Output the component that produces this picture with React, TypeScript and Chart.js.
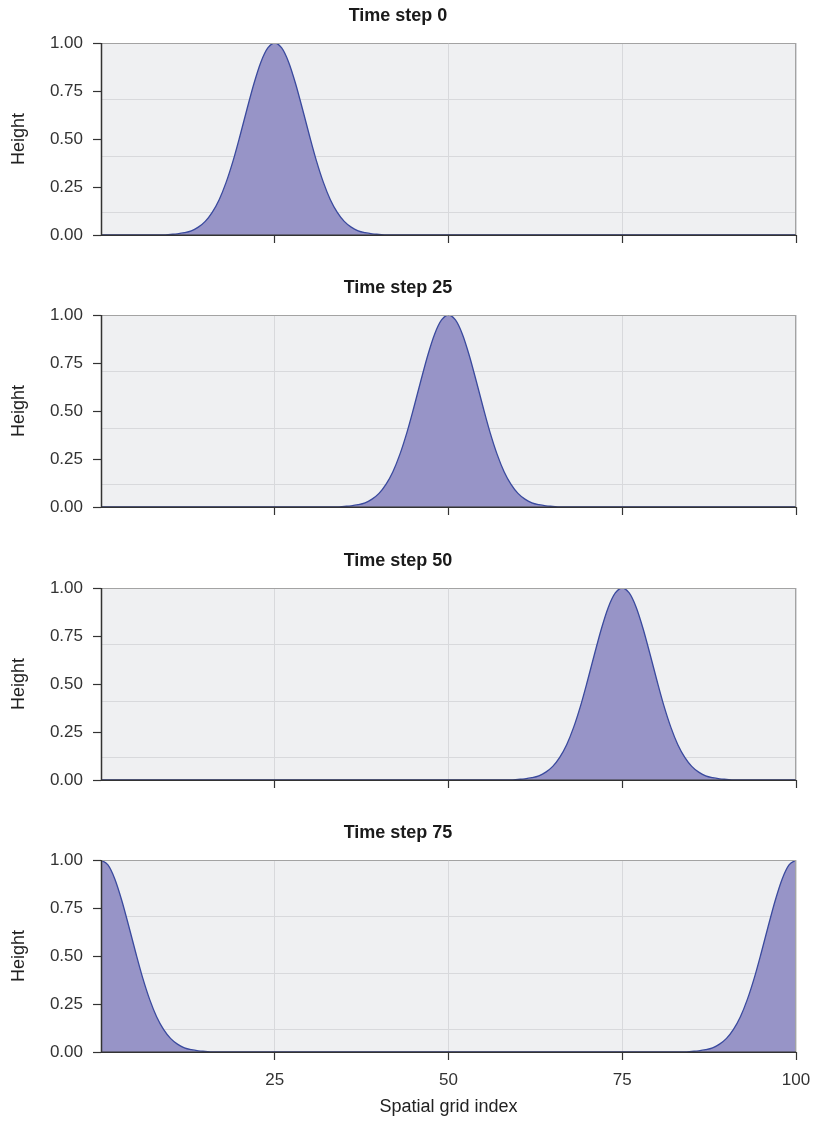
import React, { useEffect, useRef } from "react";
import { Chart, registerables } from "chart.js";

Chart.register(...registerables);

// ---------- data ----------
const gridIndex: number[] = Array.from({ length: 101 }, (_, i) => i);

const stepTitles = ["Time step 0", "Time step 25", "Time step 50", "Time step 75"];

const heightStep0 = [
  0, 0, 0, 0, 0, 0, 0, 0, 0, 0,
  0.003, 0.006, 0.012, 0.022, 0.041, 0.071, 0.118, 0.184, 0.274, 0.386,
  0.517, 0.655, 0.788, 0.9, 0.974, 1, 0.974, 0.9, 0.788, 0.655,
  0.517, 0.386, 0.274, 0.184, 0.118, 0.071, 0.041, 0.022, 0.012, 0.006,
  0.003, 0, 0, 0, 0, 0, 0, 0, 0, 0,
  0, 0, 0, 0, 0, 0, 0, 0, 0, 0,
  0, 0, 0, 0, 0, 0, 0, 0, 0, 0,
  0, 0, 0, 0, 0, 0, 0, 0, 0, 0,
  0, 0, 0, 0, 0, 0, 0, 0, 0, 0,
  0, 0, 0, 0, 0, 0, 0, 0, 0, 0,
  0,
];

const heightStep25 = [
  0, 0, 0, 0, 0, 0, 0, 0, 0, 0,
  0, 0, 0, 0, 0, 0, 0, 0, 0, 0,
  0, 0, 0, 0, 0, 0, 0, 0, 0, 0,
  0, 0, 0, 0, 0, 0.003, 0.006, 0.012, 0.022, 0.041,
  0.071, 0.118, 0.184, 0.274, 0.386, 0.517, 0.655, 0.788, 0.9, 0.974,
  1, 0.974, 0.9, 0.788, 0.655, 0.517, 0.386, 0.274, 0.184, 0.118,
  0.071, 0.041, 0.022, 0.012, 0.006, 0.003, 0, 0, 0, 0,
  0, 0, 0, 0, 0, 0, 0, 0, 0, 0,
  0, 0, 0, 0, 0, 0, 0, 0, 0, 0,
  0, 0, 0, 0, 0, 0, 0, 0, 0, 0,
  0,
];

const heightStep50 = [
  0, 0, 0, 0, 0, 0, 0, 0, 0, 0,
  0, 0, 0, 0, 0, 0, 0, 0, 0, 0,
  0, 0, 0, 0, 0, 0, 0, 0, 0, 0,
  0, 0, 0, 0, 0, 0, 0, 0, 0, 0,
  0, 0, 0, 0, 0, 0, 0, 0, 0, 0,
  0, 0, 0, 0, 0, 0, 0, 0, 0, 0,
  0.003, 0.006, 0.012, 0.022, 0.041, 0.071, 0.118, 0.184, 0.274, 0.386,
  0.517, 0.655, 0.788, 0.9, 0.974, 1, 0.974, 0.9, 0.788, 0.655,
  0.517, 0.386, 0.274, 0.184, 0.118, 0.071, 0.041, 0.022, 0.012, 0.006,
  0.003, 0, 0, 0, 0, 0, 0, 0, 0, 0,
  0,
];

const heightStep75 = [
  1, 0.974, 0.9, 0.788, 0.655, 0.517, 0.386, 0.274, 0.184, 0.118,
  0.071, 0.041, 0.022, 0.012, 0.006, 0.003, 0, 0, 0, 0,
  0, 0, 0, 0, 0, 0, 0, 0, 0, 0,
  0, 0, 0, 0, 0, 0, 0, 0, 0, 0,
  0, 0, 0, 0, 0, 0, 0, 0, 0, 0,
  0, 0, 0, 0, 0, 0, 0, 0, 0, 0,
  0, 0, 0, 0, 0, 0, 0, 0, 0, 0,
  0, 0, 0, 0, 0, 0, 0, 0, 0, 0,
  0, 0, 0, 0, 0, 0.003, 0.006, 0.012, 0.022, 0.041,
  0.071, 0.118, 0.184, 0.274, 0.386, 0.517, 0.655, 0.788, 0.9, 0.974,
  1,
];

const seriesList = [heightStep0, heightStep25, heightStep50, heightStep75];

const xTickValues = [25, 50, 75, 100];
const yTickValues = [0, 0.25, 0.5, 0.75, 1];
const hGridValues = [0.115, 0.41, 0.705];
const yAxisTitle = "Height";
const xAxisTitle = "Spatial grid index";

// ---------- styling ----------
const FONT = "'Liberation Sans', Arial, Helvetica, sans-serif";
const PANEL_TOPS = [0, 272, 545, 817];
const PANEL_HEIGHTS = [272, 272, 272, 304];
const PLOT_HEIGHT = 192;
const TITLE_BLOCK = 43;
const TITLE_SIZE = 18;

const framePlugin = {
  id: "frame",
  beforeDraw(chart: any) {
    const { ctx, chartArea } = chart;
    const { left, top, right, bottom } = chartArea;
    ctx.save();
    ctx.fillStyle = "#eff0f2";
    ctx.fillRect(left, top, right - left, bottom - top);
    ctx.restore();
  },
  afterDatasetsDraw(chart: any) {
    const { ctx, chartArea } = chart;
    const { left, top, right, bottom } = chartArea;
    ctx.save();
    ctx.lineWidth = 1;
    ctx.strokeStyle = "#a3a3a3";
    ctx.beginPath();
    ctx.moveTo(left, top + 0.5);
    ctx.lineTo(right, top + 0.5);
    ctx.moveTo(right - 0.5, top);
    ctx.lineTo(right - 0.5, bottom);
    ctx.stroke();
    ctx.lineWidth = 1.5;
    ctx.strokeStyle = "#333333";
    ctx.beginPath();
    ctx.moveTo(left + 0.5, top);
    ctx.lineTo(left + 0.5, bottom + 0.5);
    ctx.moveTo(left, bottom + 0.25);
    ctx.lineTo(right, bottom + 0.25);
    ctx.stroke();
    ctx.restore();
  },
};

function Panel({ index }: { index: number }) {
  const ref = useRef<HTMLCanvasElement | null>(null);
  const isLast = index === seriesList.length - 1;
  const h = PANEL_HEIGHTS[index];

  useEffect(() => {
    if (!ref.current) return;
    const values = seriesList[index];
    const chart = new Chart(ref.current, {
      type: "line",
      data: {
        datasets: [
          {
            data: values.map((v, i) => ({ x: gridIndex[i], y: v })),
            borderColor: "#3a4a9e",
            backgroundColor: "#9794c7",
            borderWidth: 1.3,
            fill: "origin",
            pointRadius: 0,
            cubicInterpolationMode: "monotone",
            xAxisID: "x",
            yAxisID: "y",
          },
        ],
      },
      options: {
        responsive: false,
        animation: false,
        events: [],
        layout: { padding: { left: 0, right: 18, top: 0, bottom: 0 } },
        plugins: {
          legend: { display: false },
          tooltip: { enabled: false },
          title: {
            display: true,
            text: stepTitles[index],
            color: "#1a1a1a",
            font: { family: FONT, size: TITLE_SIZE, weight: "bold" },
            padding: { top: 5.4, bottom: TITLE_BLOCK - 5.4 - TITLE_SIZE * 1.2 },
          },
        },
        scales: {
          x: {
            type: "linear",
            min: 0,
            max: 100,
            afterBuildTicks: (s: any) => {
              s.ticks = xTickValues.map((v) => ({ value: v }));
            },
            afterFit: (s: any) => {
              s.height = h - TITLE_BLOCK - PLOT_HEIGHT;
              s.paddingLeft = 0;
              s.paddingRight = 0;
            },
            ticks: {
              display: isLast,
              color: "#333333",
              padding: 10,
              maxRotation: 0,
              font: { family: FONT, size: 17 },
            },
            grid: {
              color: "#d8d9dc",
              lineWidth: 1,
              tickColor: "#333333",
              tickLength: 8,
              tickWidth: 1.2,
            },
            border: { display: false },
            title: {
              display: isLast,
              text: xAxisTitle,
              color: "#222222",
              font: { family: FONT, size: 18 },
              padding: { top: 0, bottom: 3.2 },
            },
          },
          y: {
            type: "linear",
            position: "left",
            min: 0,
            max: 1,
            afterBuildTicks: (s: any) => {
              s.ticks = yTickValues.map((v) => ({ value: v }));
            },
            afterFit: (s: any) => {
              s.width = 101;
            },
            ticks: {
              color: "#333333",
              padding: 10,
              font: { family: FONT, size: 17 },
              callback: (v: any) => Number(v).toFixed(2),
            },
            grid: {
              drawOnChartArea: false,
              tickColor: "#333333",
              tickLength: 8,
              tickWidth: 1.2,
            },
            border: { display: false },
            title: {
              display: true,
              text: yAxisTitle,
              color: "#222222",
              font: { family: FONT, size: 18 },
              padding: { top: 8.2, bottom: 0 },
            },
          },
          y2: {
            type: "linear",
            position: "right",
            min: 0,
            max: 1,
            afterBuildTicks: (s: any) => {
              s.ticks = hGridValues.map((v) => ({ value: v }));
            },
            afterFit: (s: any) => {
              s.width = 0;
            },
            ticks: { display: false },
            grid: { color: "#d8d9dc", lineWidth: 1, drawTicks: false },
            border: { display: false },
          },
        },
      },
      plugins: [framePlugin],
    } as any);
    return () => chart.destroy();
  }, [index]);

  return (
    <div
      style={{
        position: "absolute",
        left: 0,
        top: PANEL_TOPS[index],
        width: 814,
        height: h,
      }}
    >
      <canvas ref={ref} width={814} height={h} style={{ display: "block" }} />
    </div>
  );
}

export default function App() {
  return (
    <div
      style={{
        position: "absolute",
        left: 0,
        top: 0,
        width: 814,
        height: 1121,
        background: "#ffffff",
      }}
    >
      {seriesList.map((_, i) => (
        <Panel key={i} index={i} />
      ))}
    </div>
  );
}
